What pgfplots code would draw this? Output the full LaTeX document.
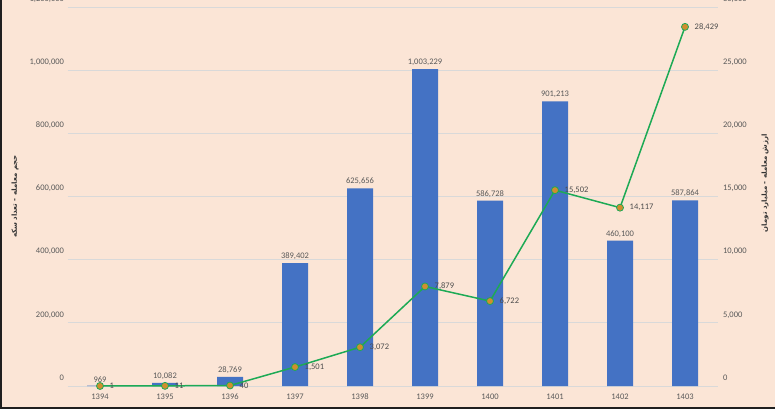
\documentclass[border=0pt]{standalone}
\usepackage{pgfplots}
\pgfplotsset{compat=1.18}
\usepackage{fontspec}
\setmainfont{Carlito}
\newfontfamily\arabicfont[Script=Arabic]{DejaVu Sans}
\TeXXeTstate=1
\definecolor{bg}{HTML}{FBE5D6}
\definecolor{barblue}{HTML}{4472C4}
\definecolor{lgreen}{HTML}{1DAA55}
\definecolor{mkorange}{HTML}{D08E2E}
\definecolor{txt}{HTML}{595959}
\definecolor{gridc}{HTML}{D9D9D9}
\begin{document}
\begin{tikzpicture}
\fill[bg] (0,0) rectangle (775pt,409pt);
\begin{axis}[
  at={(67.5pt,23pt)}, anchor=south west, scale only axis,
  width=650pt, height=379pt,
  xmin=-0.5, xmax=9.5, ymin=0, ymax=1200000,
  ybar, bar width=26pt,
  xtick={0,...,9},
  xticklabels={1394,1395,1396,1397,1398,1399,1400,1401,1402,1403},
  ytick={0,200000,400000,600000,800000,1000000,1200000},
  scaled y ticks=false,
  ymajorgrids, grid style={gridc, line width=0.7pt},
  axis line style={draw=none}, major tick length=0pt,
  tick label style={font=\fontsize{8.5}{10}\selectfont, text=txt},
  xticklabel style={yshift=-4pt},
  yticklabel style={yshift=8pt},
  /pgf/number format/fixed, /pgf/number format/precision=0,
  /pgf/number format/1000 sep={,}, /pgf/number format/assume math mode=true,
  ylabel={\arabicfont\bfseries\beginR حجم معامله - تعداد سکه\endR},
  ylabel style={at={(axis description cs:-0.0808,0.5)}, anchor=center, font=\fontsize{7}{8}\selectfont, text=black!80},
  nodes near coords,
  nodes near coords style={font=\fontsize{8.5}{10}\selectfont, text=txt},
]
\addplot[fill=barblue, draw=none] coordinates {
(0,969) (1,10082) (2,28769) (3,389402) (4,625656) (5,1003229) (6,586728) (7,901213) (8,460100) (9,587864)};
\end{axis}
\begin{axis}[
  at={(67.5pt,23pt)}, anchor=south west, scale only axis,
  width=650pt, height=379pt,
  xmin=-0.5, xmax=9.5, ymin=0, ymax=30000,
  axis y line*=right, axis x line=none,
  ytick={0,5000,10000,15000,20000,25000,30000},
  scaled y ticks=false,
  axis line style={draw=none}, major tick length=0pt,
  tick label style={font=\fontsize{8.5}{10}\selectfont, text=txt},
  yticklabel style={yshift=8pt, xshift=2pt},
  /pgf/number format/fixed, /pgf/number format/precision=0,
  /pgf/number format/1000 sep={,}, /pgf/number format/assume math mode=true,
  ylabel={\arabicfont\bfseries\beginR ارزش معامله - میلیارد تومان\endR},
  ylabel style={at={(axis description cs:1.073,0.5356)}, anchor=center, font=\fontsize{7}{8}\selectfont, text=black!80},
]
\addplot[lgreen, line width=1.5pt, mark=*, mark size=3.5pt,
  mark options={fill=mkorange, draw=lgreen, line width=0.8pt},
  nodes near coords,
  nodes near coords style={anchor=west, xshift=6pt, font=\fontsize{8.5}{10}\selectfont, text=black!70}]
coordinates {
(0,1) (1,11) (2,40) (3,1501) (4,3072) (5,7879) (6,6722) (7,15502) (8,14117) (9,28429)};
\end{axis}
\fill[black!88] (0,0) rectangle (2pt,409pt);
\fill[black!88] (0,0) rectangle (775pt,2.5pt);
\pgfresetboundingbox
\useasboundingbox (0,0) rectangle (775pt,409pt);
\end{tikzpicture}
\end{document}
